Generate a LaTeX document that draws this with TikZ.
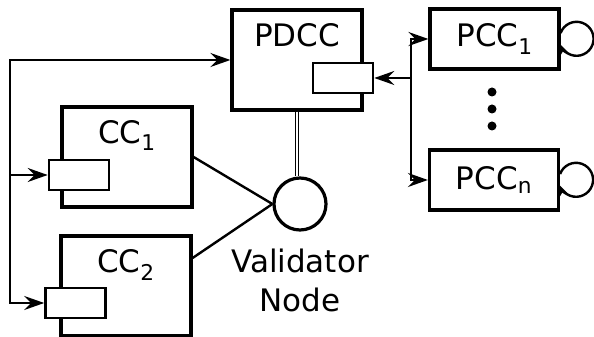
\documentclass[tikz,border=0pt]{standalone}
\usepackage{fontspec}
\setmainfont{DejaVu Sans}
\usetikzlibrary{arrows.meta, positioning}
\newcommand{\idx}[1]{\textsubscript{#1}}

\begin{document}
\begin{tikzpicture}[
        x=1pt, y=1pt,
        font=\fontsize{31}{39}\selectfont,
        box/.style={draw, line width=3.2pt, minimum width=130pt, minimum height=100pt, inner sep=0pt},
        pccbox/.style={draw, line width=3.2pt, minimum width=129pt, minimum height=60pt, inner sep=0pt},
        port/.style={draw, line width=2.6pt, fill=white, minimum width=60pt, minimum height=30pt, inner sep=0pt},
        link/.style={line width=2.4pt},
        arr/.style={line width=2.4pt, -{Stealth[length=20pt, width=14pt, inset=7pt]}},
        looparr/.style={line width=2.4pt, -{Stealth[length=11pt, width=10pt, inset=4pt]}},
        lbl/.style={inner sep=0pt},
    ]
        \useasboundingbox (0,0) rectangle (594,337);

        % Clusters with their ports
        \node[box] (pdcc) at (297,277) {};
        \node[lbl, below=15pt of pdcc.north] {PDCC};
        \node[port] (pdccport) at (343,259) {};

        \node[box] (cc1) at (127,180) {};
        \node[lbl, below=15pt of cc1.north] {CC\idx{1}};
        \node[port] (cc1port) at (79,162) {};

        \node[box] (cc2) at (126,51) {};
        \node[lbl, below=15pt of cc2.north] {CC\idx{2}};
        \node[port] (cc2port) at (75.5,34) {};

        \node[pccbox] (pcc1) at (494.5,298) {PCC\idx{1}};
        \node[pccbox] (pccn) at (494,157) {PCC\idx{n}};
        \foreach \y in {245,228,211} {
            \fill (492,\y) circle (4.5pt);
        }

        % Validator
        \node[circle, draw, line width=3.2pt, minimum size=52pt, inner sep=0pt] (val) at (300,133) {};
        \node[lbl, align=center, below=17pt of val] (vallbl) {Validator\\Node};
        \draw[link] (cc1.east) -- (val.west);
        \draw[link] ([yshift=28pt]cc2.east) -- (val.west);
        \draw[double, line width=1.2pt, double distance=2.2pt] (pdcc.south) -- (pdcc.south |- val.north);

        % Left bus
        \coordinate (lbus) at (10,162);
        \draw[arr] (lbus) |- (pdcc.west);
        \draw[arr] (lbus) -- (cc1port.west);
        \draw[arr] (lbus) |- (cc2port.west);

        % Right bus
        \coordinate (rbus) at (411,259);
        \draw[arr] (rbus) -- (pdccport.east);
        \draw[arr] (rbus) |- (pcc1.west);
        \draw[arr] (rbus) |- (pccn.west);

        % Self loops
        \draw[looparr] ([yshift=6pt]pcc1.east) arc[start angle=160, end angle=-160, radius=17pt];
        \draw[looparr] ([yshift=6pt]pccn.east) arc[start angle=160, end angle=-160, radius=17pt];
    \end{tikzpicture}
\end{document}
